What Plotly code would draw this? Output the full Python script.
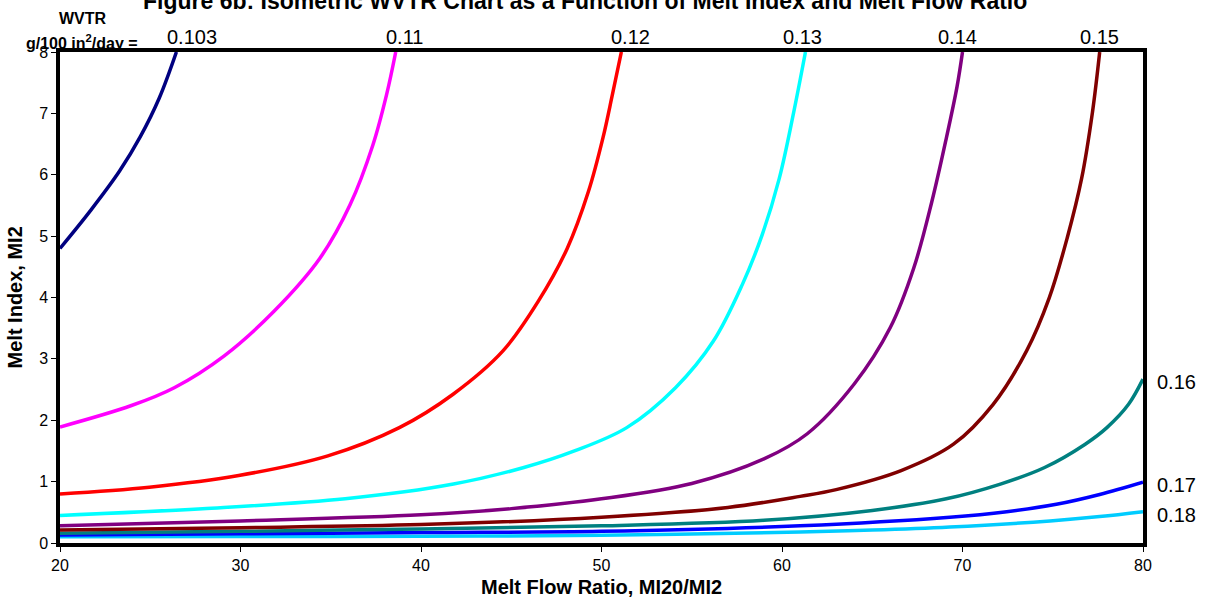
import plotly.graph_objects as go

# WVTR isolines (g/100 in^2/day)
labels = ["0.103", "0.11", "0.12", "0.13", "0.14", "0.15", "0.16", "0.17", "0.18"]
colors = ["#000080", "#FF00FF", "#FF0000", "#00FFFF", "#800080", "#800000", "#008080", "#0000FF", "#00CCFF"]

x_0103 = [20, 21.7, 23.3, 24.45, 25.5, 26.45]
y_0103 = [4.8, 5.42, 6.06, 6.62, 7.25, 8.0]

x_011 = [20, 23.96, 26.33, 29.1, 31.87, 34.4, 36.07, 37.33, 38.09, 38.6]
y_011 = [1.89, 2.24, 2.53, 3.05, 3.78, 4.64, 5.51, 6.48, 7.30, 8.0]

x_012 = [20, 24.95, 29.9, 34.84, 38.8, 41.76, 44.54, 46.5, 48.1, 49.28, 50.08, 50.6, 51.1]
y_012 = [0.80, 0.91, 1.10, 1.42, 1.88, 2.42, 3.13, 3.94, 4.80, 5.73, 6.60, 7.3, 8.0]

x_013 = [20, 27.9, 35.8, 41.8, 45.7, 48.5, 51.4, 54.1, 56.2, 57.8, 58.9, 59.85, 60.65, 61.3]
y_013 = [0.45, 0.56, 0.72, 0.96, 1.23, 1.50, 1.88, 2.53, 3.29, 4.21, 5.02, 5.94, 7.02, 8.0]

x_014 = [20, 30, 40, 45, 50, 55, 59, 61.4, 64, 66, 67.3, 68.3, 69.1, 69.7, 70.0]
y_014 = [0.28, 0.36, 0.46, 0.56, 0.72, 0.97, 1.37, 1.78, 2.59, 3.51, 4.48, 5.56, 6.59, 7.44, 8.0]

x_015 = [20, 30, 40, 50, 57, 61, 63, 66.6, 69.5, 71.7, 73.55, 74.8, 75.8, 76.6, 77.2, 77.6]
y_015 = [0.21, 0.25, 0.30, 0.42, 0.58, 0.76, 0.87, 1.18, 1.61, 2.26, 3.13, 3.99, 4.97, 5.94, 7.02, 8.0]

x_016 = [20, 30, 40, 50, 59, 65, 69.1, 72.1, 74.55, 76.8, 78, 79.2, 80]
y_016 = [0.16, 0.19, 0.23, 0.28, 0.37, 0.53, 0.72, 0.96, 1.23, 1.61, 1.88, 2.26, 2.67]

x_017 = [20, 30, 40, 50, 61, 69.3, 72.45, 75.2, 77.6, 80]
y_017 = [0.13, 0.15, 0.17, 0.19, 0.28, 0.42, 0.51, 0.63, 0.79, 0.99]

x_018 = [20, 30, 40, 50, 61, 65, 69.3, 74.85, 77.6, 80]
y_018 = [0.10, 0.105, 0.11, 0.125, 0.18, 0.21, 0.26, 0.36, 0.43, 0.51]

xs = [x_0103, x_011, x_012, x_013, x_014, x_015, x_016, x_017, x_018]
ys = [y_0103, y_011, y_012, y_013, y_014, y_015, y_016, y_017, y_018]

x_ticks = [20, 30, 40, 50, 60, 70, 80]
y_ticks = [0, 1, 2, 3, 4, 5, 6, 7, 8]

# label placement (x in data units along the top edge)
top_label_x = [27.3, 39.1, 51.6, 61.15, 69.7, 77.6]

FONT = "Arial, 'Liberation Sans', sans-serif"

fig = go.Figure()
for i in reversed(range(len(labels))):
    fig.add_trace(go.Scatter(
        x=xs[i], y=ys[i], mode="lines", name=labels[i],
        line=dict(color=colors[i], width=3.5, shape="spline", smoothing=1.0),
        showlegend=False, hoverinfo="skip"))

annotations = []
for i in range(6):
    annotations.append(dict(x=top_label_x[i], y=8, xref="x", yref="y", text=labels[i],
                            showarrow=False, xanchor="center", yanchor="bottom",
                            yshift=2, font=dict(family=FONT, size=20, color="#000")))
for i in range(6, 9):
    annotations.append(dict(x=80, y=ys[i][-1], xref="x", yref="y", text=labels[i],
                            showarrow=False, xanchor="left", yanchor="middle",
                            xshift=12, yshift=-3, font=dict(family=FONT, size=20, color="#000")))
annotations.append(dict(x=0.0212, y=1.046, xref="paper", yref="paper", text="<b>WVTR</b>",
                        showarrow=False, xanchor="center", yanchor="bottom",
                        font=dict(family=FONT, size=16, color="#000")))
annotations.append(dict(x=0.0739, y=0.996, xref="paper", yref="paper",
                        text="<b>g/100 in<sup>2</sup>/day =</b>",
                        showarrow=False, xanchor="right", yanchor="bottom",
                        font=dict(family=FONT, size=16, color="#000")))
annotations.append(dict(x=0.4848, y=1.103, xref="paper", yref="paper",
                        text="<b>Figure 6b: Isometric WVTR Chart as a Function of Melt Index and Melt Flow Ratio</b>",
                        showarrow=False, xanchor="center", yanchor="middle",
                        font=dict(family=FONT, size=23, color="#000")))
annotations.append(dict(x=0.5, y=-0.0896, xref="paper", yref="paper",
                        text="<b>Melt Flow Ratio, MI20/MI2</b>",
                        showarrow=False, xanchor="center", yanchor="middle",
                        font=dict(family=FONT, size=20, color="#000")))
annotations.append(dict(x=-0.0416, y=0.5, xref="paper", yref="paper",
                        text="<b>Melt Index, MI2</b>", textangle=-90,
                        showarrow=False, xanchor="center", yanchor="middle",
                        font=dict(family=FONT, size=20, color="#000")))

fig.update_layout(
    width=1207, height=601,
    margin=dict(l=60, r=64, t=52, b=58, autoexpand=False),
    paper_bgcolor="white", plot_bgcolor="white",
    font=dict(family=FONT, size=16, color="#000"),
    annotations=annotations,
    xaxis=dict(range=[20, 80], tickvals=x_ticks, ticktext=[str(v) for v in x_ticks],
               showgrid=False, zeroline=False, showline=True, linecolor="#000", linewidth=3.5,
               mirror=True, ticks="outside", ticklen=5, tickcolor="#000", tickwidth=1,
               automargin=False,
               tickfont=dict(family=FONT, size=16, color="#000")),
    yaxis=dict(range=[0, 8], tickvals=y_ticks, ticktext=[str(v) for v in y_ticks],
               showgrid=False, zeroline=False, showline=True, linecolor="#000", linewidth=3.5,
               mirror=True, ticks="outside", ticklen=5, tickcolor="#000", tickwidth=1,
               automargin=False,
               tickfont=dict(family=FONT, size=16, color="#000")),
)

fig.write_html("out.html", config={"displayModeBar": False},
               post_script="document.body.style.margin='0px';")
